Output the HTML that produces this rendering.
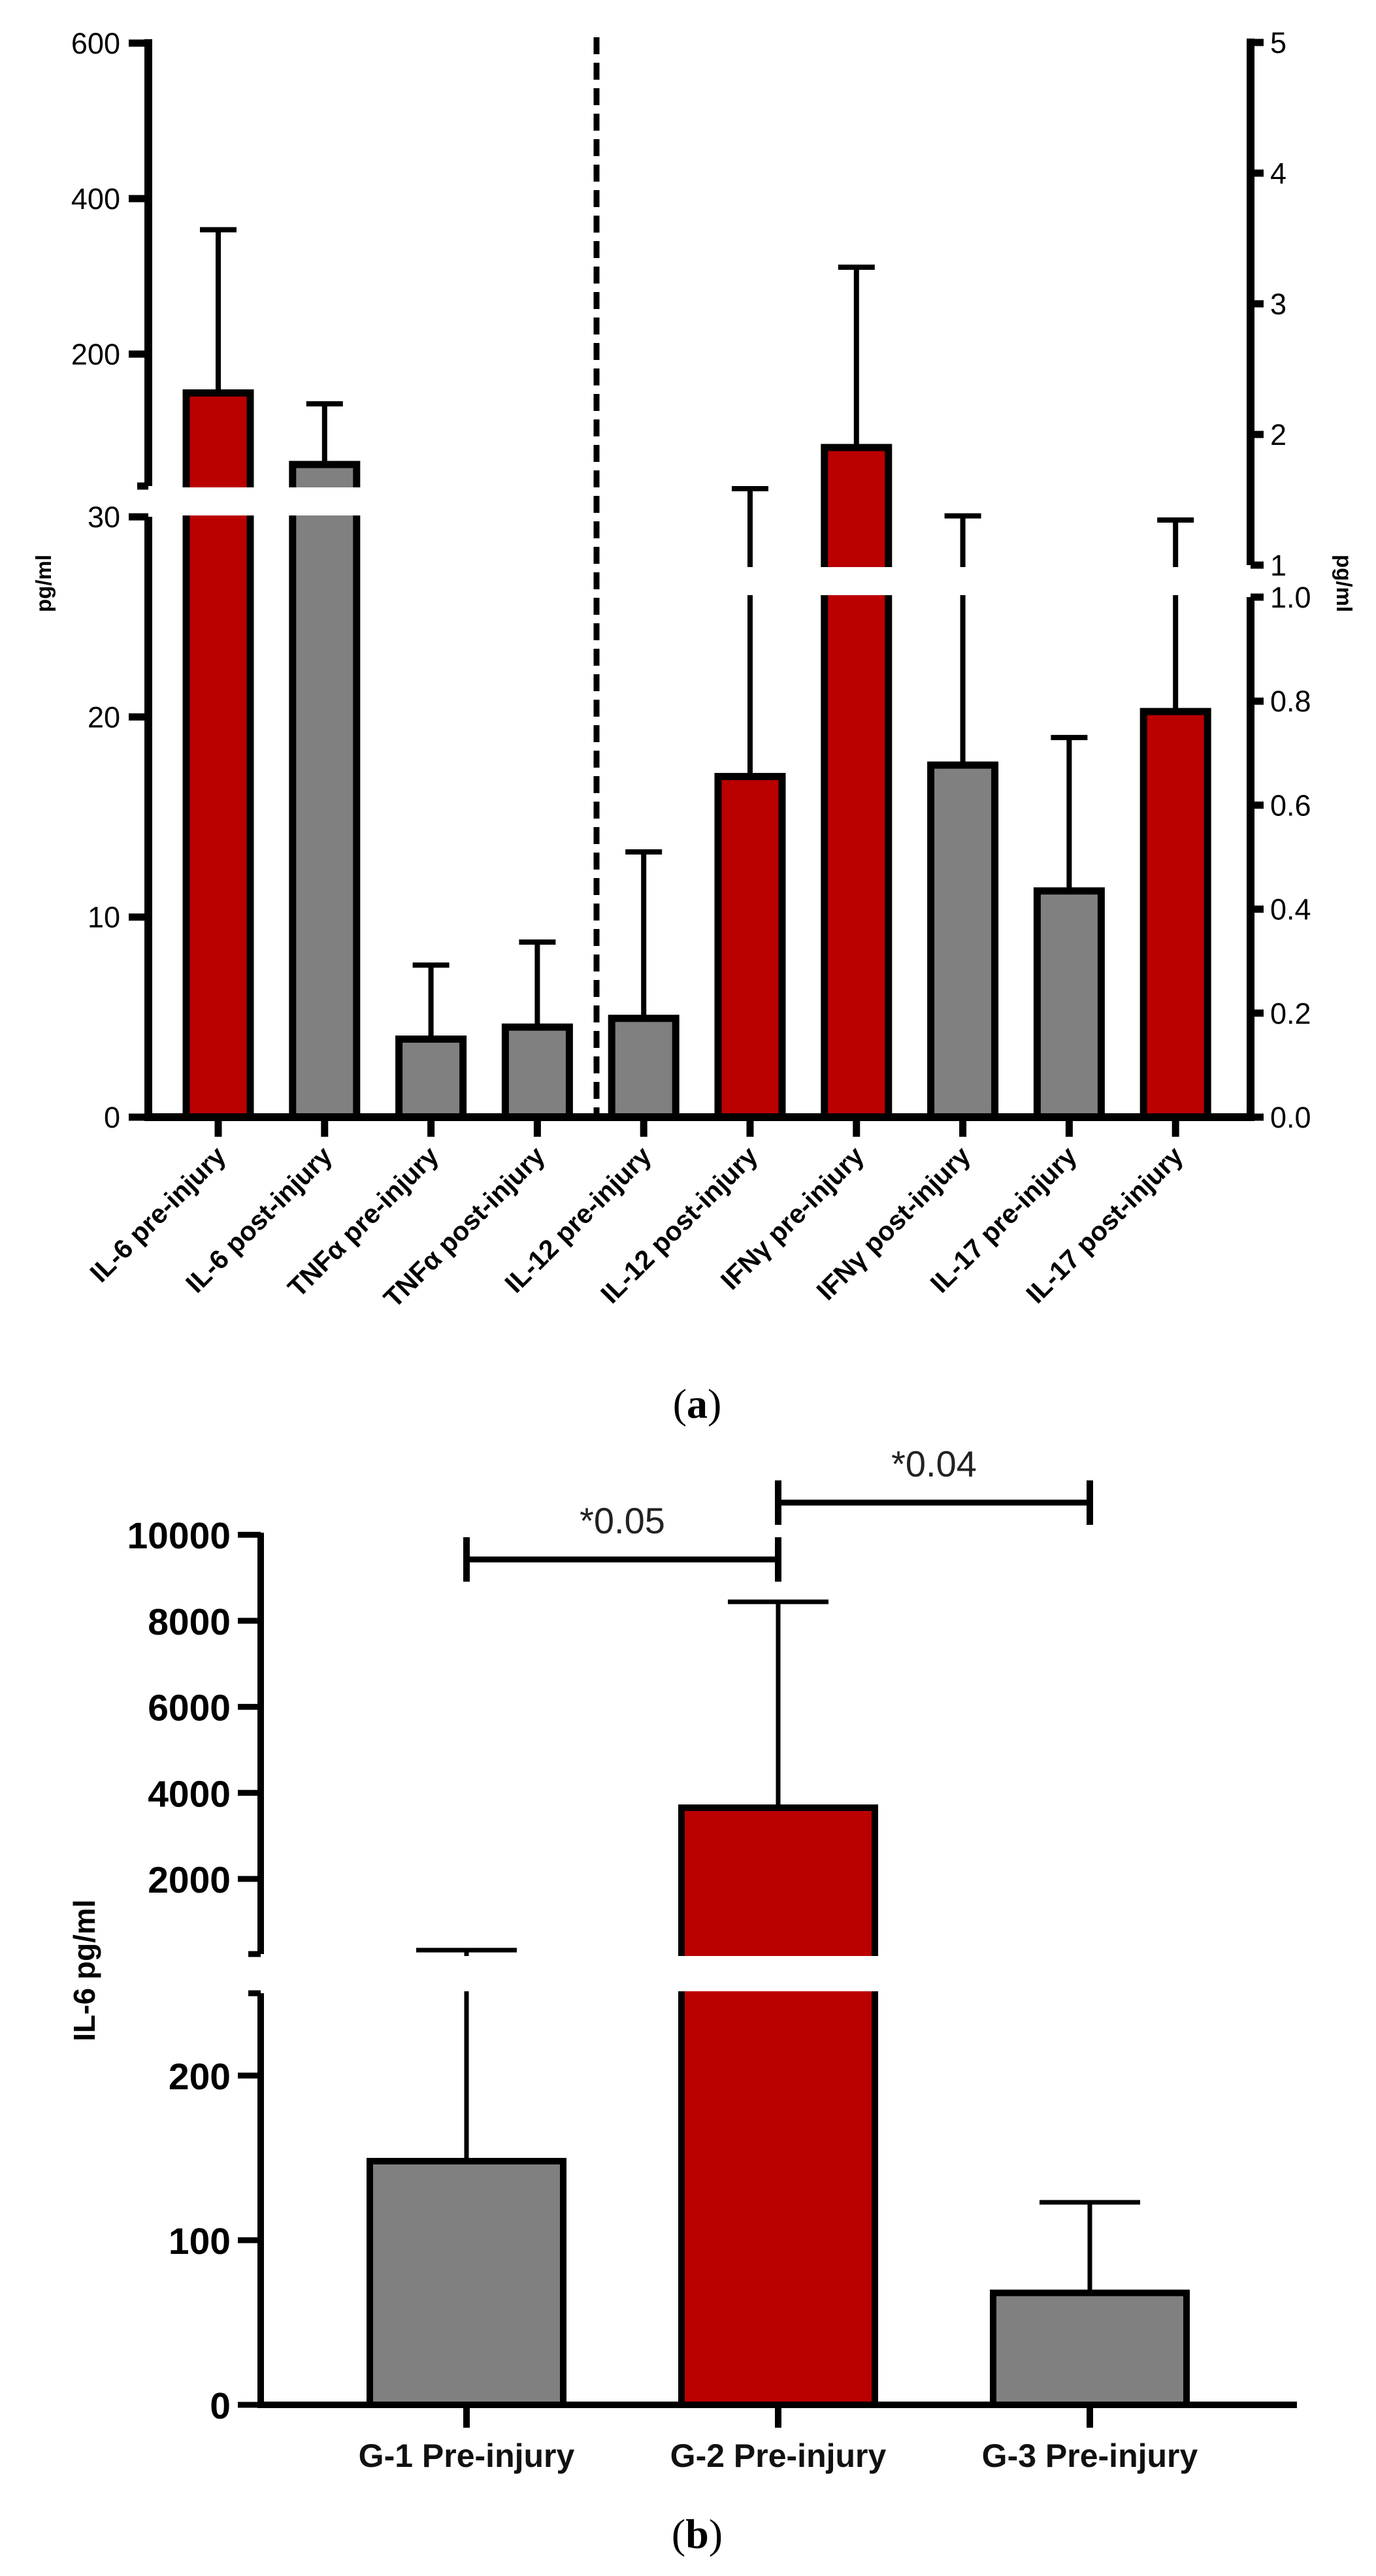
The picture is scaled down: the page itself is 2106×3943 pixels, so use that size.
<!DOCTYPE html>
<html><head><meta charset="utf-8"><style>
html,body{margin:0;padding:0;background:#fff;}
svg{display:block;}
text{font-family:"Liberation Sans",Arial,sans-serif;}
</style></head><body>
<svg id="fig" width="2106" height="3943" viewBox="0 0 2106 3943" xmlns="http://www.w3.org/2000/svg">
<g id="chartA"></g>
<g id="chartB"></g>
<text x="1067" y="2170" font-size="64" text-anchor="middle" style="font-family:'Liberation Serif',serif">(<tspan font-weight="bold">a</tspan>)</text>
<text x="1067" y="3900" font-size="64" text-anchor="middle" style="font-family:'Liberation Serif',serif">(<tspan font-weight="bold">b</tspan>)</text>
</svg>
<script>
// ---------- Chart A data ----------
const catsA = ["IL-6 pre-injury","IL-6 post-injury","TNF\u03b1 pre-injury","TNF\u03b1 post-injury","IL-12 pre-injury","IL-12 post-injury","IFN\u03b3 pre-injury","IFN\u03b3 post-injury","IL-17 pre-injury","IL-17 post-injury"];
const meansA = [150, 58, 3.9, 4.5, 0.19, 0.655, 1.9, 0.677, 0.435, 0.78];
const sdA = [210, 78, 3.7, 4.25, 0.32, 0.93, 1.38, 0.70, 0.295, 0.565];
const axisA = ["L","L","L","L","R","R","R","R","R","R"];
const colorA = ["red","gray","gray","gray","gray","red","red","gray","gray","red"];
const leftLowTicks = [0,10,20,30];
const leftHighTicks = [200,400,600];
const rightLowTicks = ["0.0","0.2","0.4","0.6","0.8","1.0"];
const rightHighTicks = ["1","2","3","4","5"];
// ---------- Chart B data ----------
const catsB = ["G-1 Pre-injury","G-2 Pre-injury","G-3 Pre-injury"];
const meansB = [148, 3655, 68];
const sdB = [197, 4785, 55];
const colorB = ["gray","red","gray"];
const bLowTicks = [0,100,200];
const bHighTicks = [2000,4000,6000,8000,10000];
const sigLabels = ["*0.05","*0.04"];

const NS="http://www.w3.org/2000/svg";
const FILL={red:"#bb0000",gray:"#808080"};
function mk(parent,tag,attrs){const e=document.createElementNS(NS,tag);for(const k in attrs)e.setAttribute(k,attrs[k]);parent.appendChild(e);return e;}

// ---------- Chart A scales ----------
function yL(v){return v<=30?1710-v*30.63:542+(200-v)*1.19;}
function yRlow(v){return 1710-v*796;}
function yRhigh(v){return 865-(v-1)*200;}
function yR(v){return v<=1?yRlow(v):yRhigh(v);}
function xA(i){return 334+i*162.8;}
const A=document.getElementById('chartA');

for(let i=0;i<catsA.length;i++){
  const f=axisA[i]==="L"?yL:yR;
  const cx=xA(i), yt=f(meansA[i]), ye=f(meansA[i]+sdA[i]);
  const el=mk(A,'line',{x1:cx,y1:ye,x2:cx,y2:yt,stroke:"#000","stroke-width":8});
  
  
  const cap=mk(A,'line',{x1:cx-28,y1:ye,x2:cx+28,y2:ye,stroke:"#000","stroke-width":8});
  
  
  const r=mk(A,'rect',{x:cx-49,y:yt,width:98,height:1710-yt,fill:FILL[colorA[i]],stroke:"#000","stroke-width":11});
  
  
}
const bl=mk(A,'rect',{x:150,y:746,width:420,height:43,fill:"#fff"});


const br=mk(A,'rect',{x:1080,y:868,width:860,height:43,fill:"#fff"});


const dl=mk(A,'line',{x1:913,y1:57,x2:913,y2:1705,stroke:"#000","stroke-width":9,"stroke-dasharray":"26 13"});


const ax=[[227,yL(600)-6,227,744],[227,791,227,1716],[221,1710,1920,1710],[1914,yRhigh(5)-6,1914,865],[1914,914,1914,1716]];
ax.forEach((a,k)=>{const l=mk(A,'line',{x1:a[0],y1:a[1],x2:a[2],y2:a[3],stroke:"#000","stroke-width":12});
  
  });
function tickA(x1,x2,y,label,anchor,tx,name){
  const t=mk(A,'line',{x1:x1,y1:y,x2:x2,y2:y,stroke:"#000","stroke-width":11});
  
  
  if(label!==null){const s=mk(A,'text',{x:tx,y:y+16,"font-size":45,"text-anchor":anchor});s.textContent=label;
    
    }
}
leftLowTicks.forEach(v=>tickA(197,227,yL(v),String(v),"end",184,'left-tick-'+v));
leftHighTicks.forEach(v=>tickA(197,227,yL(v),String(v),"end",184,'left-tick-'+v));
tickA(210,227,744,null,"end",0,'left-break-top');
rightLowTicks.forEach(v=>tickA(1914,1934,yRlow(parseFloat(v)),v,"start",1944,'right-tick-'+v));
rightHighTicks.forEach(v=>tickA(1914,1934,yRhigh(parseFloat(v)),v,"start",1944,'right-tick-hi-'+v));
for(let i=0;i<catsA.length;i++){
  const cx=xA(i);
  const t=mk(A,'line',{x1:cx,y1:1710,x2:cx,y2:1740,stroke:"#000","stroke-width":11});
  
  
  const ax_=cx+14, ay=1772;
  const s=mk(A,'text',{x:ax_,y:ay,"font-size":41,"font-weight":"bold","text-anchor":"end",transform:`rotate(-45 ${ax_} ${ay})`});
  s.textContent=catsA[i];
  
  
}
const yl=mk(A,'text',{x:0,y:0,"font-size":33,"font-weight":"bold","text-anchor":"middle",transform:"translate(78 893) rotate(-90)"});
yl.textContent="pg/ml";


const yr=mk(A,'text',{x:0,y:0,"font-size":33,"font-weight":"bold","text-anchor":"middle",transform:"translate(2046 893) rotate(90)"});
yr.textContent="pg/ml";



// ---------- Chart B ----------
function yB(v){return v<=250?3681-v*2.52:2876-(v-2000)*0.06585;}
function xB(i){return 714+i*477;}
const B=document.getElementById('chartB');
for(let i=0;i<catsB.length;i++){
  const cx=xB(i), yt=yB(meansB[i]), ye=yB(meansB[i]+sdB[i]);
  const el=mk(B,'line',{x1:cx,y1:ye,x2:cx,y2:yt,stroke:"#000","stroke-width":7});
  
  
  const cap=mk(B,'line',{x1:cx-77,y1:ye,x2:cx+77,y2:ye,stroke:"#000","stroke-width":7});
  
  
  const r=mk(B,'rect',{x:cx-148,y:yt,width:296,height:3681-yt,fill:FILL[colorB[i]],stroke:"#000","stroke-width":10});
  
  
}
const bb=mk(B,'rect',{x:370,y:2994,width:1000,height:54,fill:"#fff"});


[[399,2346,399,2991],[399,3051,399,3686],[394,3681,1985,3681]].forEach((a,k)=>{
  const l=mk(B,'line',{x1:a[0],y1:a[1],x2:a[2],y2:a[3],stroke:"#000","stroke-width":10});
  
  });
function tickB(v,label){
  const y=yB(v);
  const t=mk(B,'line',{x1:364,y1:y,x2:399,y2:y,stroke:"#000","stroke-width":9});
  
  
  const s=mk(B,'text',{x:353,y:y+21,"font-size":57,"font-weight":"bold","text-anchor":"end"});
  s.textContent=label;
  
  
}
bLowTicks.forEach(v=>tickB(v,String(v)));
bHighTicks.forEach(v=>tickB(v,String(v)));
[2991,3051].forEach((y,k)=>{const t=mk(B,'line',{x1:380,y1:y,x2:399,y2:y,stroke:"#000","stroke-width":9});
  
  });
for(let i=0;i<catsB.length;i++){
  const cx=xB(i);
  const t=mk(B,'line',{x1:cx,y1:3681,x2:cx,y2:3716,stroke:"#000","stroke-width":10});
  
  
  const s=mk(B,'text',{x:cx,y:3776,"font-size":50,"font-weight":"bold","text-anchor":"middle",fill:"#111"});
  s.textContent=catsB[i];
  
  
}
const ybl=mk(B,'text',{x:0,y:0,"font-size":46,"font-weight":"bold","text-anchor":"middle",transform:"translate(145 3016) rotate(-90)"});
ybl.textContent="IL-6 pg/ml";


const sigPairs=[[0,1],[1,2]];
const sigY=[2387,2300];
sigPairs.forEach((p,k)=>{
  const x1=xB(p[0]),x2=xB(p[1]),y=sigY[k];
  const g=mk(B,'g',{});
  
  
  mk(g,'line',{x1:x1,y1:y,x2:x2,y2:y,stroke:"#000","stroke-width":9});
  mk(g,'line',{x1:x1,y1:y-34,x2:x1,y2:y+34,stroke:"#000","stroke-width":10});
  mk(g,'line',{x1:x2,y1:y-34,x2:x2,y2:y+34,stroke:"#000","stroke-width":10});
  const s=mk(B,'text',{x:(x1+x2)/2,y:y-40,"font-size":56,"text-anchor":"middle",fill:"#222"});
  s.textContent=sigLabels[k];
  
  
});
</script>
</body></html>
